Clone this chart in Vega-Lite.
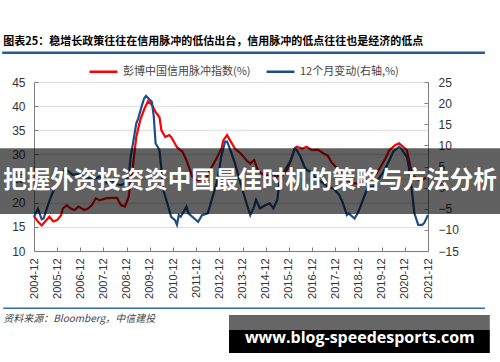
{
  "$schema": "https://vega.github.io/schema/vega-lite/v6.json",
  "width": 394,
  "height": 169,
  "autosize": {"type": "none"},
  "padding": {"left": 34, "top": 82, "right": 72, "bottom": 111},
  "background": "white",
  "data": {"values": [
    {"date": "2004/12/01", "series": "彭博中国信用脉冲指数(%)", "value": 17.2},
    {"date": "2005/02/01", "series": "彭博中国信用脉冲指数(%)", "value": 16.1},
    {"date": "2005/04/01", "series": "彭博中国信用脉冲指数(%)", "value": 15.3},
    {"date": "2005/06/01", "series": "彭博中国信用脉冲指数(%)", "value": 16.2},
    {"date": "2005/08/01", "series": "彭博中国信用脉冲指数(%)", "value": 17.1},
    {"date": "2005/10/01", "series": "彭博中国信用脉冲指数(%)", "value": 16.1},
    {"date": "2005/12/01", "series": "彭博中国信用脉冲指数(%)", "value": 16.4},
    {"date": "2006/02/01", "series": "彭博中国信用脉冲指数(%)", "value": 17.4},
    {"date": "2006/03/01", "series": "彭博中国信用脉冲指数(%)", "value": 18.8},
    {"date": "2006/05/01", "series": "彭博中国信用脉冲指数(%)", "value": 19.5},
    {"date": "2006/07/01", "series": "彭博中国信用脉冲指数(%)", "value": 18.8},
    {"date": "2006/09/01", "series": "彭博中国信用脉冲指数(%)", "value": 18.5},
    {"date": "2006/11/01", "series": "彭博中国信用脉冲指数(%)", "value": 19.2},
    {"date": "2007/02/01", "series": "彭博中国信用脉冲指数(%)", "value": 18.5},
    {"date": "2007/04/01", "series": "彭博中国信用脉冲指数(%)", "value": 18.8},
    {"date": "2007/06/01", "series": "彭博中国信用脉冲指数(%)", "value": 19.5},
    {"date": "2007/08/01", "series": "彭博中国信用脉冲指数(%)", "value": 20.9},
    {"date": "2007/10/01", "series": "彭博中国信用脉冲指数(%)", "value": 20.5},
    {"date": "2008/01/01", "series": "彭博中国信用脉冲指数(%)", "value": 20.9},
    {"date": "2008/04/01", "series": "彭博中国信用脉冲指数(%)", "value": 21.0},
    {"date": "2008/07/01", "series": "彭博中国信用脉冲指数(%)", "value": 21.0},
    {"date": "2008/09/01", "series": "彭博中国信用脉冲指数(%)", "value": 19.5},
    {"date": "2008/11/01", "series": "彭博中国信用脉冲指数(%)", "value": 19.2},
    {"date": "2009/01/01", "series": "彭博中国信用脉冲指数(%)", "value": 21.2},
    {"date": "2009/02/01", "series": "彭博中国信用脉冲指数(%)", "value": 24.7},
    {"date": "2009/03/01", "series": "彭博中国信用脉冲指数(%)", "value": 26.7},
    {"date": "2009/05/01", "series": "彭博中国信用脉冲指数(%)", "value": 33.6},
    {"date": "2009/07/01", "series": "彭博中国信用脉冲指数(%)", "value": 37.1},
    {"date": "2009/09/01", "series": "彭博中国信用脉冲指数(%)", "value": 39.3},
    {"date": "2009/11/01", "series": "彭博中国信用脉冲指数(%)", "value": 41.0},
    {"date": "2010/01/01", "series": "彭博中国信用脉冲指数(%)", "value": 40.3},
    {"date": "2010/03/01", "series": "彭博中国信用脉冲指数(%)", "value": 38.8},
    {"date": "2010/05/01", "series": "彭博中国信用脉冲指数(%)", "value": 37.7},
    {"date": "2010/06/01", "series": "彭博中国信用脉冲指数(%)", "value": 35.0},
    {"date": "2010/08/01", "series": "彭博中国信用脉冲指数(%)", "value": 33.6},
    {"date": "2010/10/01", "series": "彭博中国信用脉冲指数(%)", "value": 34.0},
    {"date": "2010/11/01", "series": "彭博中国信用脉冲指数(%)", "value": 33.6},
    {"date": "2011/01/01", "series": "彭博中国信用脉冲指数(%)", "value": 32.2},
    {"date": "2011/02/01", "series": "彭博中国信用脉冲指数(%)", "value": 31.5},
    {"date": "2011/05/01", "series": "彭博中国信用脉冲指数(%)", "value": 30.5},
    {"date": "2011/07/01", "series": "彭博中国信用脉冲指数(%)", "value": 28.8},
    {"date": "2011/10/01", "series": "彭博中国信用脉冲指数(%)", "value": 25.4},
    {"date": "2011/12/01", "series": "彭博中国信用脉冲指数(%)", "value": 24.7},
    {"date": "2012/02/01", "series": "彭博中国信用脉冲指数(%)", "value": 24.7},
    {"date": "2012/05/01", "series": "彭博中国信用脉冲指数(%)", "value": 24.7},
    {"date": "2012/07/01", "series": "彭博中国信用脉冲指数(%)", "value": 26.7},
    {"date": "2012/10/01", "series": "彭博中国信用脉冲指数(%)", "value": 28.8},
    {"date": "2013/01/01", "series": "彭博中国信用脉冲指数(%)", "value": 31.2},
    {"date": "2013/02/01", "series": "彭博中国信用脉冲指数(%)", "value": 32.9},
    {"date": "2013/04/01", "series": "彭博中国信用脉冲指数(%)", "value": 34.0},
    {"date": "2013/06/01", "series": "彭博中国信用脉冲指数(%)", "value": 32.6},
    {"date": "2013/08/01", "series": "彭博中国信用脉冲指数(%)", "value": 31.2},
    {"date": "2013/11/01", "series": "彭博中国信用脉冲指数(%)", "value": 30.2},
    {"date": "2014/02/01", "series": "彭博中国信用脉冲指数(%)", "value": 28.8},
    {"date": "2014/04/01", "series": "彭博中国信用脉冲指数(%)", "value": 28.1},
    {"date": "2014/06/01", "series": "彭博中国信用脉冲指数(%)", "value": 28.8},
    {"date": "2014/08/01", "series": "彭博中国信用脉冲指数(%)", "value": 26.7},
    {"date": "2014/11/01", "series": "彭博中国信用脉冲指数(%)", "value": 25.7},
    {"date": "2015/02/01", "series": "彭博中国信用脉冲指数(%)", "value": 25.7},
    {"date": "2015/03/01", "series": "彭博中国信用脉冲指数(%)", "value": 26.0},
    {"date": "2015/06/01", "series": "彭博中国信用脉冲指数(%)", "value": 25.4},
    {"date": "2015/08/01", "series": "彭博中国信用脉冲指数(%)", "value": 26.0},
    {"date": "2015/11/01", "series": "彭博中国信用脉冲指数(%)", "value": 26.7},
    {"date": "2016/01/01", "series": "彭博中国信用脉冲指数(%)", "value": 28.8},
    {"date": "2016/03/01", "series": "彭博中国信用脉冲指数(%)", "value": 31.2},
    {"date": "2016/04/01", "series": "彭博中国信用脉冲指数(%)", "value": 31.6},
    {"date": "2016/07/01", "series": "彭博中国信用脉冲指数(%)", "value": 31.2},
    {"date": "2016/09/01", "series": "彭博中国信用脉冲指数(%)", "value": 31.6},
    {"date": "2016/12/01", "series": "彭博中国信用脉冲指数(%)", "value": 30.9},
    {"date": "2017/03/01", "series": "彭博中国信用脉冲指数(%)", "value": 31.0},
    {"date": "2017/06/01", "series": "彭博中国信用脉冲指数(%)", "value": 30.2},
    {"date": "2017/08/01", "series": "彭博中国信用脉冲指数(%)", "value": 29.8},
    {"date": "2017/10/01", "series": "彭博中国信用脉冲指数(%)", "value": 28.4},
    {"date": "2018/01/01", "series": "彭博中国信用脉冲指数(%)", "value": 27.1},
    {"date": "2018/04/01", "series": "彭博中国信用脉冲指数(%)", "value": 26.0},
    {"date": "2018/06/01", "series": "彭博中国信用脉冲指数(%)", "value": 24.7},
    {"date": "2018/08/01", "series": "彭博中国信用脉冲指数(%)", "value": 24.0},
    {"date": "2018/10/01", "series": "彭博中国信用脉冲指数(%)", "value": 24.0},
    {"date": "2019/01/01", "series": "彭博中国信用脉冲指数(%)", "value": 24.0},
    {"date": "2019/04/01", "series": "彭博中国信用脉冲指数(%)", "value": 24.7},
    {"date": "2019/06/01", "series": "彭博中国信用脉冲指数(%)", "value": 24.7},
    {"date": "2019/08/01", "series": "彭博中国信用脉冲指数(%)", "value": 25.4},
    {"date": "2019/11/01", "series": "彭博中国信用脉冲指数(%)", "value": 27.1},
    {"date": "2020/02/01", "series": "彭博中国信用脉冲指数(%)", "value": 29.2},
    {"date": "2020/04/01", "series": "彭博中国信用脉冲指数(%)", "value": 30.9},
    {"date": "2020/07/01", "series": "彭博中国信用脉冲指数(%)", "value": 31.9},
    {"date": "2020/09/01", "series": "彭博中国信用脉冲指数(%)", "value": 32.3},
    {"date": "2020/11/01", "series": "彭博中国信用脉冲指数(%)", "value": 31.6},
    {"date": "2021/01/01", "series": "彭博中国信用脉冲指数(%)", "value": 30.9},
    {"date": "2021/03/01", "series": "彭博中国信用脉冲指数(%)", "value": 27.4},
    {"date": "2021/04/01", "series": "彭博中国信用脉冲指数(%)", "value": 25.7},
    {"date": "2021/07/01", "series": "彭博中国信用脉冲指数(%)", "value": 24.7},
    {"date": "2021/09/01", "series": "彭博中国信用脉冲指数(%)", "value": 24.7},
    {"date": "2021/11/01", "series": "彭博中国信用脉冲指数(%)", "value": 25.2},
    {"date": "2004/12/01", "series": "12个月变动(右轴,%)", "value": -6.9},
    {"date": "2005/02/01", "series": "12个月变动(右轴,%)", "value": -5.0},
    {"date": "2005/04/01", "series": "12个月变动(右轴,%)", "value": -7.5},
    {"date": "2005/05/01", "series": "12个月变动(右轴,%)", "value": -7.3},
    {"date": "2005/07/01", "series": "12个月变动(右轴,%)", "value": -4.5},
    {"date": "2005/09/01", "series": "12个月变动(右轴,%)", "value": -1.9},
    {"date": "2005/11/01", "series": "12个月变动(右轴,%)", "value": 0.2},
    {"date": "2006/02/01", "series": "12个月变动(右轴,%)", "value": 2.4},
    {"date": "2006/04/01", "series": "12个月变动(右轴,%)", "value": 4.6},
    {"date": "2006/06/01", "series": "12个月变动(右轴,%)", "value": 3.8},
    {"date": "2006/08/01", "series": "12个月变动(右轴,%)", "value": 3.0},
    {"date": "2006/11/01", "series": "12个月变动(右轴,%)", "value": 3.2},
    {"date": "2007/03/01", "series": "12个月变动(右轴,%)", "value": 2.2},
    {"date": "2007/05/01", "series": "12个月变动(右轴,%)", "value": 2.2},
    {"date": "2007/08/01", "series": "12个月变动(右轴,%)", "value": 2.2},
    {"date": "2007/10/01", "series": "12个月变动(右轴,%)", "value": 2.6},
    {"date": "2008/02/01", "series": "12个月变动(右轴,%)", "value": 1.0},
    {"date": "2008/04/01", "series": "12个月变动(右轴,%)", "value": 1.8},
    {"date": "2008/07/01", "series": "12个月变动(右轴,%)", "value": 0.8},
    {"date": "2008/09/01", "series": "12个月变动(右轴,%)", "value": 0.6},
    {"date": "2008/11/01", "series": "12个月变动(右轴,%)", "value": 1.0},
    {"date": "2009/01/01", "series": "12个月变动(右轴,%)", "value": 2.6},
    {"date": "2009/02/01", "series": "12个月变动(右轴,%)", "value": 7.3},
    {"date": "2009/03/01", "series": "12个月变动(右轴,%)", "value": 9.7},
    {"date": "2009/05/01", "series": "12个月变动(右轴,%)", "value": 15.2},
    {"date": "2009/06/01", "series": "12个月变动(右轴,%)", "value": 16.4},
    {"date": "2009/08/01", "series": "12个月变动(右轴,%)", "value": 19.6},
    {"date": "2009/09/01", "series": "12个月变动(右轴,%)", "value": 21.1},
    {"date": "2009/10/01", "series": "12个月变动(右轴,%)", "value": 21.7},
    {"date": "2010/01/01", "series": "12个月变动(右轴,%)", "value": 20.3},
    {"date": "2010/02/01", "series": "12个月变动(右轴,%)", "value": 16.8},
    {"date": "2010/03/01", "series": "12个月变动(右轴,%)", "value": 10.5},
    {"date": "2010/05/01", "series": "12个月变动(右轴,%)", "value": 8.9},
    {"date": "2010/06/01", "series": "12个月变动(右轴,%)", "value": 4.2},
    {"date": "2010/07/01", "series": "12个月变动(右轴,%)", "value": -0.6},
    {"date": "2010/09/01", "series": "12个月变动(右轴,%)", "value": -3.7},
    {"date": "2010/11/01", "series": "12个月变动(右轴,%)", "value": -6.9},
    {"date": "2011/01/01", "series": "12个月变动(右轴,%)", "value": -7.7},
    {"date": "2011/02/01", "series": "12个月变动(右轴,%)", "value": -8.8},
    {"date": "2011/03/01", "series": "12个月变动(右轴,%)", "value": -6.5},
    {"date": "2011/04/01", "series": "12个月变动(右轴,%)", "value": -6.9},
    {"date": "2011/07/01", "series": "12个月变动(右轴,%)", "value": -4.5},
    {"date": "2011/08/01", "series": "12个月变动(右轴,%)", "value": -6.1},
    {"date": "2011/11/01", "series": "12个月变动(右轴,%)", "value": -7.3},
    {"date": "2012/01/01", "series": "12个月变动(右轴,%)", "value": -8.1},
    {"date": "2012/03/01", "series": "12个月变动(右轴,%)", "value": -6.5},
    {"date": "2012/06/01", "series": "12个月变动(右轴,%)", "value": -6.1},
    {"date": "2012/08/01", "series": "12个月变动(右轴,%)", "value": -2.9},
    {"date": "2012/11/01", "series": "12个月变动(右轴,%)", "value": 1.8},
    {"date": "2013/01/01", "series": "12个月变动(右轴,%)", "value": 7.5},
    {"date": "2013/03/01", "series": "12个月变动(右轴,%)", "value": 10.9},
    {"date": "2013/04/01", "series": "12个月变动(右轴,%)", "value": 10.9},
    {"date": "2013/06/01", "series": "12个月变动(右轴,%)", "value": 8.5},
    {"date": "2013/08/01", "series": "12个月变动(右轴,%)", "value": 5.8},
    {"date": "2013/10/01", "series": "12个月变动(右轴,%)", "value": 2.6},
    {"date": "2013/12/01", "series": "12个月变动(右轴,%)", "value": -0.6},
    {"date": "2014/02/01", "series": "12个月变动(右轴,%)", "value": -3.7},
    {"date": "2014/04/01", "series": "12个月变动(右轴,%)", "value": -6.5},
    {"date": "2014/06/01", "series": "12个月变动(右轴,%)", "value": -4.5},
    {"date": "2014/07/01", "series": "12个月变动(右轴,%)", "value": -2.9},
    {"date": "2014/09/01", "series": "12个月变动(右轴,%)", "value": -4.9},
    {"date": "2014/12/01", "series": "12个月变动(右轴,%)", "value": -4.1},
    {"date": "2015/02/01", "series": "12个月变动(右轴,%)", "value": -3.7},
    {"date": "2015/04/01", "series": "12个月变动(右轴,%)", "value": -4.9},
    {"date": "2015/06/01", "series": "12个月变动(右轴,%)", "value": -2.9},
    {"date": "2015/07/01", "series": "12个月变动(右轴,%)", "value": 1.0},
    {"date": "2015/10/01", "series": "12个月变动(右轴,%)", "value": 4.2},
    {"date": "2016/01/01", "series": "12个月变动(右轴,%)", "value": 6.5},
    {"date": "2016/03/01", "series": "12个月变动(右轴,%)", "value": 9.3},
    {"date": "2016/04/01", "series": "12个月变动(右轴,%)", "value": 8.9},
    {"date": "2016/06/01", "series": "12个月变动(右轴,%)", "value": 7.3},
    {"date": "2016/08/01", "series": "12个月变动(右轴,%)", "value": 5.0},
    {"date": "2016/09/01", "series": "12个月变动(右轴,%)", "value": 4.2},
    {"date": "2016/11/01", "series": "12个月变动(右轴,%)", "value": 3.8},
    {"date": "2017/02/01", "series": "12个月变动(右轴,%)", "value": 2.2},
    {"date": "2017/03/01", "series": "12个月变动(右轴,%)", "value": 1.8},
    {"date": "2017/06/01", "series": "12个月变动(右轴,%)", "value": 1.0},
    {"date": "2017/08/01", "series": "12个月变动(右轴,%)", "value": 0.2},
    {"date": "2017/11/01", "series": "12个月变动(右轴,%)", "value": -0.2},
    {"date": "2018/02/01", "series": "12个月变动(右轴,%)", "value": -1.7},
    {"date": "2018/04/01", "series": "12个月变动(右轴,%)", "value": -3.7},
    {"date": "2018/06/01", "series": "12个月变动(右轴,%)", "value": -6.5},
    {"date": "2018/07/01", "series": "12个月变动(右轴,%)", "value": -6.1},
    {"date": "2018/10/01", "series": "12个月变动(右轴,%)", "value": -7.3},
    {"date": "2018/12/01", "series": "12个月变动(右轴,%)", "value": -5.7},
    {"date": "2019/03/01", "series": "12个月变动(右轴,%)", "value": -2.1},
    {"date": "2019/05/01", "series": "12个月变动(右轴,%)", "value": 0.2},
    {"date": "2019/08/01", "series": "12个月变动(右轴,%)", "value": 0.2},
    {"date": "2019/10/01", "series": "12个月变动(右轴,%)", "value": 1.8},
    {"date": "2020/01/01", "series": "12个月变动(右轴,%)", "value": 3.8},
    {"date": "2020/04/01", "series": "12个月变动(右轴,%)", "value": 6.5},
    {"date": "2020/06/01", "series": "12个月变动(右轴,%)", "value": 8.5},
    {"date": "2020/09/01", "series": "12个月变动(右轴,%)", "value": 9.7},
    {"date": "2020/10/01", "series": "12个月变动(右轴,%)", "value": 9.3},
    {"date": "2021/01/01", "series": "12个月变动(右轴,%)", "value": 7.3},
    {"date": "2021/02/01", "series": "12个月变动(右轴,%)", "value": 5.0},
    {"date": "2021/03/01", "series": "12个月变动(右轴,%)", "value": 1.8},
    {"date": "2021/04/01", "series": "12个月变动(右轴,%)", "value": -2.1},
    {"date": "2021/05/01", "series": "12个月变动(右轴,%)", "value": -6.1},
    {"date": "2021/07/01", "series": "12个月变动(右轴,%)", "value": -8.8},
    {"date": "2021/09/01", "series": "12个月变动(右轴,%)", "value": -8.8},
    {"date": "2021/10/01", "series": "12个月变动(右轴,%)", "value": -8.4},
    {"date": "2021/12/01", "series": "12个月变动(右轴,%)", "value": -6.5}
  ]},
  "layer": [
    {
      "transform": [{"filter": "datum.series === '彭博中国信用脉冲指数(%)'"}],
      "mark": {"type": "line", "strokeWidth": 2.2},
      "encoding": {
        "x": {
          "field": "date", "type": "temporal",
          "scale": {"domain": [{"year": 2004, "month": 12, "date": 1}, {"year": 2021, "month": 12, "date": 1}]},
          "axis": {
            "title": null, "grid": false, "format": "%Y-%m", "labelAngle": -90, "labelOverlap": false,
            "labelBound": false, "labelFlush": false, "tickCount": 40,
            "values": [
              {"year": 2004, "month": 12, "date": 1}, {"year": 2005, "month": 12, "date": 1},
              {"year": 2006, "month": 12, "date": 1}, {"year": 2007, "month": 12, "date": 1},
              {"year": 2008, "month": 12, "date": 1}, {"year": 2009, "month": 12, "date": 1},
              {"year": 2010, "month": 12, "date": 1}, {"year": 2011, "month": 12, "date": 1},
              {"year": 2012, "month": 12, "date": 1}, {"year": 2013, "month": 12, "date": 1},
              {"year": 2014, "month": 12, "date": 1}, {"year": 2015, "month": 12, "date": 1},
              {"year": 2016, "month": 12, "date": 1}, {"year": 2017, "month": 12, "date": 1},
              {"year": 2018, "month": 12, "date": 1}, {"year": 2019, "month": 12, "date": 1},
              {"year": 2020, "month": 12, "date": 1}, {"year": 2021, "month": 12, "date": 1}
            ],
            "labelFontSize": 11, "labelPadding": 11, "tickSize": -4
          }
        },
        "y": {
          "field": "value", "type": "quantitative",
          "scale": {"domain": [10, 45], "nice": false, "zero": false},
          "axis": {
            "title": null, "orient": "left", "values": [10, 15, 20, 25, 30, 35, 40, 45], "tickCount": 20,
            "grid": true, "gridColor": "#e4e4e4", "gridWidth": 1.5, "labelOverlap": false,
            "labelFontSize": 12, "labelPadding": 13, "tickSize": -4
          }
        },
        "color": {
          "field": "series", "type": "nominal",
          "scale": {"domain": ["彭博中国信用脉冲指数(%)", "12个月变动(右轴,%)"], "range": ["#ff0000", "#1c4f88"]},
          "legend": {
            "title": null, "orient": "none", "legendX": 54, "legendY": -26, "direction": "horizontal",
            "symbolType": "stroke", "symbolSize": 784, "symbolStrokeWidth": 2.5,
            "labelFont": "Noto Sans CJK SC", "labelFontSize": 11, "labelColor": "#444",
            "labelOffset": 4, "columnPadding": 10, "padding": 0
          }
        }
      }
    },
    {
      "transform": [{"filter": "datum.series === '12个月变动(右轴,%)'"}],
      "mark": {"type": "line", "strokeWidth": 2.2},
      "encoding": {
        "x": {"field": "date", "type": "temporal"},
        "y": {
          "field": "value", "type": "quantitative",
          "scale": {"domain": [-15, 25], "nice": false, "zero": false},
          "axis": {
            "title": null, "orient": "right", "values": [-15, -10, -5, 0, 5, 10, 15, 20, 25], "tickCount": 20,
            "grid": false, "labelFontSize": 12, "labelPadding": 14, "tickSize": -4, "labelOverlap": false
          }
        },
        "color": {"field": "series", "type": "nominal"}
      }
    },
    {
      "data": {"values": [{}]},
      "mark": {"type": "rect", "color": "#000000", "opacity": 0.62},
      "encoding": {
        "x": {"datum": {"year": 2003, "month": 6, "date": 10}, "type": "temporal"},
        "x2": {"datum": {"year": 2025, "month": 1, "date": 10}},
        "y": {"datum": 31.27, "type": "quantitative", "scale": {"domain": [10, 45], "nice": false, "zero": false}, "axis": null},
        "y2": {"datum": 17.66}
      }
    },
    {
      "data": {"values": [{}]},
      "mark": {"type": "text", "text": "把握外资投资资中国最佳时机的策略与方法分析", "font": "Noto Sans CJK SC", "fontWeight": "bold", "fontSize": 23.5, "color": "#ffffff", "align": "center", "baseline": "middle"},
      "encoding": {
        "x": {"datum": {"year": 2014, "month": 3, "date": 26}, "type": "temporal"},
        "y": {"datum": 24.5, "type": "quantitative", "scale": {"domain": [10, 45], "nice": false, "zero": false}, "axis": null}
      }
    },
    {
      "data": {"values": [{}]},
      "mark": {"type": "text", "text": "图表25：稳增长政策往往在信用脉冲的低估出台，信用脉冲的低点往往也是经济的低点", "font": "Noto Sans CJK SC", "fontWeight": "bold", "fontSize": 11, "color": "#000000", "align": "left", "baseline": "middle"},
      "encoding": {
        "x": {"datum": {"year": 2003, "month": 8, "date": 4}, "type": "temporal"},
        "y": {"datum": 53.28, "type": "quantitative", "scale": {"domain": [10, 45], "nice": false, "zero": false}, "axis": null}
      }
    },
    {
      "data": {"values": [{}]},
      "mark": {"type": "rule", "color": "#1f5c99", "strokeWidth": 2.5},
      "encoding": {
        "x": {"datum": {"year": 2003, "month": 7, "date": 19}, "type": "temporal"},
        "x2": {"datum": {"year": 2024, "month": 5, "date": 16}},
        "y": {"datum": 51.07, "type": "quantitative", "scale": {"domain": [10, 45], "nice": false, "zero": false}, "axis": null}
      }
    },
    {
      "data": {"values": [{}]},
      "mark": {"type": "rule", "color": "#2e6ca4", "strokeWidth": 1.5},
      "encoding": {
        "x": {"datum": {"year": 2003, "month": 8, "date": 4}, "type": "temporal"},
        "x2": {"datum": {"year": 2024, "month": 5, "date": 16}},
        "y": {"datum": -1.87, "type": "quantitative", "scale": {"domain": [10, 45], "nice": false, "zero": false}, "axis": null}
      }
    },
    {
      "data": {"values": [{}]},
      "mark": {"type": "text", "text": "资料来源：Bloomberg，中信建投", "font": "Noto Sans CJK SC", "fontStyle": "italic", "fontSize": 10, "color": "#444444", "align": "left", "baseline": "middle"},
      "encoding": {
        "x": {"datum": {"year": 2003, "month": 8, "date": 4}, "type": "temporal"},
        "y": {"datum": -4.08, "type": "quantitative", "scale": {"domain": [10, 45], "nice": false, "zero": false}, "axis": null}
      }
    },
    {
      "data": {"values": [{}]},
      "mark": {"type": "rect", "color": "#666666"},
      "encoding": {
        "x": {"datum": {"year": 2013, "month": 5, "date": 1}, "type": "temporal"},
        "x2": {"datum": {"year": 2024, "month": 8, "date": 1}},
        "y": {"datum": -3.25, "type": "quantitative", "scale": {"domain": [10, 45], "nice": false, "zero": false}, "axis": null},
        "y2": {"datum": -6.36}
      }
    },
    {
      "data": {"values": [{}]},
      "mark": {"type": "rect", "color": "#000000"},
      "encoding": {
        "x": {"datum": {"year": 2013, "month": 5, "date": 1}, "type": "temporal"},
        "x2": {"datum": {"year": 2024, "month": 8, "date": 1}},
        "y": {"datum": -6.36, "type": "quantitative", "scale": {"domain": [10, 45], "nice": false, "zero": false}, "axis": null},
        "y2": {"datum": -11.12}
      }
    },
    {
      "data": {"values": [{}]},
      "mark": {"type": "text", "text": "www.blog-speedesports.com", "font": "Open Sans", "fontWeight": "bold", "fontSize": 16, "color": "#ffffff", "align": "center", "baseline": "middle"},
      "encoding": {
        "x": {"datum": {"year": 2018, "month": 12, "date": 23}, "type": "temporal"},
        "y": {"datum": -8.02, "type": "quantitative", "scale": {"domain": [10, 45], "nice": false, "zero": false}, "axis": null}
      }
    }
  ],
  "resolve": {"scale": {"y": "independent"}, "axis": {"y": "independent"}},
  "config": {
    "view": {"stroke": null},
    "axis": {
      "labelFont": "Liberation Sans", "labelColor": "#333333",
      "domainColor": "#808080", "tickColor": "#808080", "domainWidth": 1
    },
    "axisX": {"labelOverlap": false}
  }
}
